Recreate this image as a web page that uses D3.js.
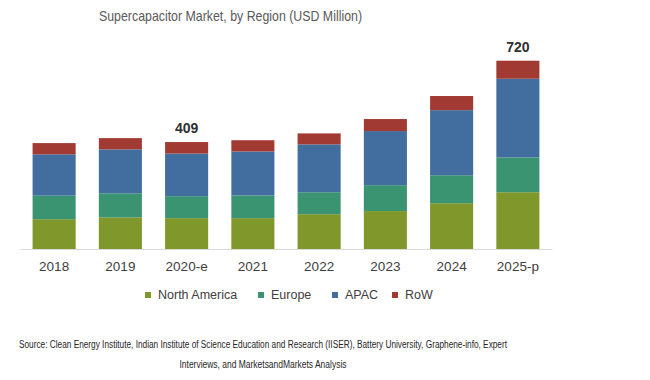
<!DOCTYPE html>
<html>
<head>
<meta charset="utf-8">
<script src="https://cdn.jsdelivr.net/npm/d3@7"></script>
<style>
  html, body { margin: 0; padding: 0; background: #ffffff; }
  svg { display: block; }
</style>
</head>
<body>
<svg id="chart" width="650" height="380"></svg>
<script>
const categories = ["2018", "2019", "2020-e", "2021", "2022", "2023", "2024", "2025-p"];
const seriesNames = ["North America", "Europe", "APAC", "RoW"];
const northAmerica = [114, 121, 118, 118, 133, 145, 175, 217];
const europe       = [ 90,  92,  84,  87,  84,  99, 107, 133];
const apac         = [158, 168, 163, 168, 183, 207, 249, 301];
const row          = [ 43,  43,  44,  43,  42,  46,  54,  69];
const labelledCategories = ["2020-e", "2025-p"];
const labelValues = ["409", "720"];
const colors = ["#80982b", "#3a9471", "#416e9e", "#a03a32"];

const svg = d3.select("#chart");
const base = 249;

const x = d3.scaleBand().domain(categories).range([20, 552]).paddingInner(0.35).paddingOuter(0.19);
const y = d3.scaleLinear().domain([0, 800]).range([base, base - 800 * 0.2615]);

const table = categories.map((c, i) => ({
  cat: c,
  "North America": northAmerica[i],
  "Europe": europe[i],
  "APAC": apac[i],
  "RoW": row[i]
}));
const stack = d3.stack().keys(seriesNames)(table);

// title
svg.append("text")
  .attr("x", 230.5).attr("y", 21)
  .attr("text-anchor", "middle")
  .attr("font-family", "'Liberation Sans', Arial, sans-serif")
  .attr("font-size", 15)
  .attr("textLength", 263)
  .attr("lengthAdjust", "spacingAndGlyphs")
  .attr("fill", "#595959")
  .text("Supercapacitor Market, by Region (USD Million)");

// bars
svg.append("g").selectAll("g").data(stack).join("g")
  .attr("fill", (d, i) => colors[i])
  .selectAll("rect").data(d => d).join("rect")
  .attr("x", d => x(d.data.cat))
  .attr("width", x.bandwidth())
  .attr("y", d => y(d[1]))
  .attr("height", d => y(d[0]) - y(d[1]));

// baseline axis
const axis = svg.append("g").attr("transform", `translate(0,${base})`)
  .call(d3.axisBottom(x).tickSize(0).tickPadding(12));
axis.select(".domain").attr("stroke", "#d9d9d9").attr("stroke-width", 1.2);
axis.selectAll("text")
  .attr("font-family", "'Liberation Sans', Arial, sans-serif")
  .attr("font-size", 13.5)
  .attr("fill", "#404040");

// total labels
const topStack = stack[stack.length - 1];
labelledCategories.forEach((c, k) => {
  const d = topStack.find(p => p.data.cat === c);
  svg.append("text")
    .attr("x", x(c) + x.bandwidth() / 2)
    .attr("y", y(d[1]) - 9)
    .attr("text-anchor", "middle")
    .attr("font-family", "'Liberation Sans', Arial, sans-serif")
    .attr("font-size", 14)
    .attr("font-weight", "bold")
    .attr("fill", "#303030")
    .text(labelValues[k]);
});

// legend
const legendX = [145, 258, 332, 392];
const lg = svg.append("g");
seriesNames.forEach((n, i) => {
  lg.append("rect").attr("x", legendX[i]).attr("y", 292).attr("width", 6).attr("height", 6).attr("fill", colors[i]);
  lg.append("text").attr("x", legendX[i] + 13).attr("y", 299)
    .attr("font-family", "'Liberation Sans', Arial, sans-serif")
    .attr("font-size", 12.5)
    .attr("fill", "#404040")
    .text(n);
});

// source
const src = svg.append("g")
  .attr("font-family", "'Liberation Sans', Arial, sans-serif")
  .attr("font-size", 10)
  .attr("fill", "#262626")
  .attr("text-anchor", "middle");
src.append("text").attr("x", 263).attr("y", 348)
  .attr("textLength", 488).attr("lengthAdjust", "spacingAndGlyphs")
  .text("Source: Clean Energy Institute, Indian Institute of Science Education and Research (IISER), Battery University, Graphene-info, Expert");
src.append("text").attr("x", 263).attr("y", 368)
  .attr("textLength", 167).attr("lengthAdjust", "spacingAndGlyphs")
  .text("Interviews, and MarketsandMarkets Analysis");
</script>
</body>
</html>
